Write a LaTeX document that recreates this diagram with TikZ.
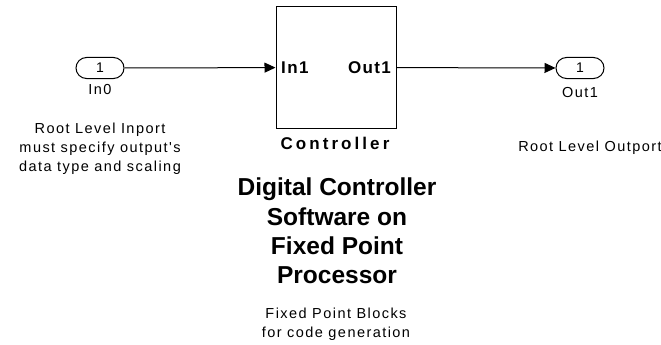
\documentclass[tikz,border=0pt]{standalone}
\usepackage{fontspec}
\setmainfont{Liberation Sans}
\newfontfamily\smallfont[LetterSpace=10]{Liberation Sans}
\newfontfamily\portfont[LetterSpace=8]{Liberation Sans Bold}
\newfontfamily\namefont[LetterSpace=18]{Liberation Sans Bold}
\newfontfamily\bigfont[LetterSpace=0]{Liberation Sans Bold}
\usetikzlibrary{arrows.meta, shapes.misc}
\tikzset{
	portnode/.style={
			rounded rectangle,
			draw=black,
			line width=1pt,
			minimum width=48pt,
			minimum height=21pt,
			inner sep=0pt,
			font=\smallfont\fontsize{14}{17}\selectfont
		},
	blocknode/.style={
			rectangle,
			draw=black,
			line width=1pt,
			minimum width=120pt,
			minimum height=121pt,
			inner sep=0pt
		},
	smalltext/.style={
			align=center,
			inner sep=0pt,
			font=\smallfont\fontsize{14.5}{19}\selectfont
		},
	boldtext/.style={
			inner sep=0pt,
			font=\portfont\fontsize{17}{19}\selectfont
		},
	nametext/.style={
			inner sep=0pt,
			font=\namefont\fontsize{17}{19}\selectfont
		},
	bigtext/.style={
			align=center,
			inner sep=0pt,
			font=\bigfont\fontsize{24.5}{29.3}\selectfont
		},
	signal/.style={
			draw=black,
			line width=1pt,
			-{Triangle[length=11pt,width=10pt]}
		}
}
\begin{document}
\begin{tikzpicture}[x=1pt, y=-1pt]
\useasboundingbox (0,0) rectangle (661,345);

\node[portnode] (pIn) at (100,68) {1};
\node[smalltext] (lIn) at (100,90) {In0};
\node[smalltext] (nIn) at (100,149) {Root Level Inport\\must specify output's\\data type and scaling};

\node[blocknode] (bCtrl) at (336,67.5) {};
\node[boldtext, anchor=west] (tIn1) at (281,68) {In1};
\node[boldtext, anchor=east] (tOut1) at (391,68) {Out1};
\node[nametext] (lCtrl) at (335,143) {Controller};

\node[portnode] (pOut) at (580,68) {1};
\node[smalltext] (lOut) at (580,93) {Out1};
\node[smalltext] (nOut) at (590,148) {Root Level Outport};

\node[bigtext] (nTitle) at (337,231) {Digital Controller\\Software on\\Fixed Point\\Processor};
\node[smalltext] (nGen) at (336,324) {Fixed Point Blocks\\for code generation};

\draw[signal] (pIn) -- (bCtrl);
\draw[signal] (bCtrl) -- (pOut);

\end{tikzpicture}
\end{document}
